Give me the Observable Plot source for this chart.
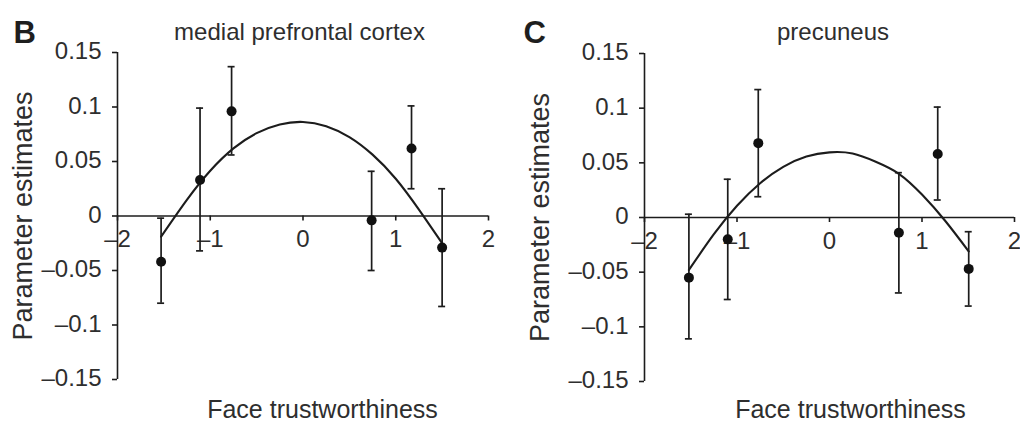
<!DOCTYPE html>
<html>
<head>
<meta charset="utf-8">
<script src="https://cdn.jsdelivr.net/npm/d3@7"></script>
<script src="https://cdn.jsdelivr.net/npm/@observablehq/plot@0.6"></script>
<style>
  body { margin: 0; background: #fff; }
  #fig { display: flex; width: 1020px; height: 424px; overflow: hidden; }
  #fig svg { display: block; flex: none; }
</style>
</head>
<body>
<div id="fig"></div>
<script>
// Axis ticks shared by both panels
const xTicks = [-2, -1, 0, 1, 2];
const xTickLabels = ["\u20132", "\u20131", "0", "1", "2"];
const yTicks = [-0.15, -0.1, -0.05, 0, 0.05, 0.1, 0.15];
const yTickLabels = ["\u20130.15", "\u20130.1", "\u20130.05", "0", "0.05", "0.1", "0.15"];

// Panel B: medial prefrontal cortex — bin means with error bars
const mpfcX = [-1.53, -1.11, -0.77, 0.74, 1.17, 1.50];
const mpfcY = [-0.042, 0.033, 0.096, -0.004, 0.062, -0.029];
const mpfcHi = [-0.002, 0.099, 0.137, 0.041, 0.101, 0.025];
const mpfcLo = [-0.080, -0.032, 0.056, -0.050, 0.025, -0.083];
// quadratic fit, sampled along the trustworthiness axis
const mpfcFitX = [-1.53, -1.25, -1.0, -0.75, -0.5, -0.25, 0, 0.25, 0.5, 0.75, 1.0, 1.25, 1.5];
const mpfcFitY = [-0.019, 0.015, 0.0415, 0.062, 0.076, 0.084, 0.0863, 0.0824, 0.0724, 0.0563, 0.0342, 0.0059, -0.025];

// Panel C: precuneus
const precX = [-1.52, -1.10, -0.77, 0.75, 1.17, 1.505];
const precY = [-0.055, -0.020, 0.068, -0.014, 0.058, -0.047];
const precHi = [0.003, 0.035, 0.117, 0.041, 0.101, -0.013];
const precLo = [-0.111, -0.075, 0.019, -0.069, 0.016, -0.081];
const precFitX = [-1.52, -1.25, -1.0, -0.75, -0.5, -0.25, 0, 0.25, 0.5, 0.75, 1.0, 1.25, 1.505];
const precFitY = [-0.048, -0.0153, 0.0107, 0.0313, 0.0463, 0.0557, 0.0596, 0.0585, 0.051, 0.040, 0.021, -0.003, -0.031];

const FONT = "'Liberation Sans', Arial, Helvetica, sans-serif";
const INK = "#1c1c1c";
const TEXT = "#2e2e2e";

function panel(p) {
  const pts = p.x.map((x, i) => ({x, y: p.y[i], hi: p.hi[i], lo: p.lo[i]}));
  const fit = p.fitX.map((x, i) => ({x, y: p.fitY[i]}));
  const [ml, mr, mt, mb] = p.margins;
  const frameMid = ml + (510 - ml - mr) / 2;
  return Plot.plot({
    width: 510,
    height: 424,
    marginLeft: ml, marginRight: mr, marginTop: mt, marginBottom: mb,
    x: {domain: [-2, 2], axis: null},
    y: {domain: [-0.15, 0.15], axis: null},
    style: {fontFamily: FONT, background: "#fff", color: TEXT},
    marks: [
      // x axis through zero, with downward ticks
      Plot.ruleY([0], {x1: -2, x2: 2, stroke: INK, strokeWidth: 1.6}),
      Plot.ruleX(xTicks, {x: d => d, y1: 0, y2: 0, insetBottom: -5, stroke: INK, strokeWidth: 1.6}),
      Plot.text(xTicks, {x: d => d, y: 0, text: (d, i) => xTickLabels[i], lineAnchor: "top", dy: 14, fontSize: 24, fill: TEXT}),
      // y axis at the left edge, with outward ticks
      Plot.ruleX([-2], {y1: -0.15, y2: 0.15, stroke: INK, strokeWidth: 1.6}),
      Plot.ruleY(yTicks, {y: d => d, x1: -2, x2: -2, insetLeft: -5, stroke: INK, strokeWidth: 1.6}),
      Plot.text(yTicks, {x: -2, y: d => d, text: (d, i) => yTickLabels[i], textAnchor: "end", dx: -16, dy: -1, fontSize: 24, fill: TEXT}),
      // fitted curve
      Plot.line(fit, {x: "x", y: "y", curve: "natural", stroke: INK, strokeWidth: 2.1}),
      // error bars with caps
      Plot.ruleX(pts, {x: "x", y1: "lo", y2: "hi", stroke: INK, strokeWidth: 1.7}),
      Plot.ruleY(pts, {y: "hi", x1: "x", x2: "x", insetLeft: -3.5, insetRight: -3.5, stroke: INK, strokeWidth: 1.7}),
      Plot.ruleY(pts, {y: "lo", x1: "x", x2: "x", insetLeft: -3.5, insetRight: -3.5, stroke: INK, strokeWidth: 1.7}),
      Plot.dot(pts, {x: "x", y: "y", r: 5, fill: "#111", stroke: "none"}),
      // panel letter and region title
      Plot.text([p.letter], {frameAnchor: "top-left", text: d => d, textAnchor: "start", lineAnchor: "bottom", dx: p.letterX - ml, dy: 42 - mt, fontSize: 31, fontWeight: "bold", fill: "#1e1e1e"}),
      Plot.text([p.title], {frameAnchor: "top", text: d => d, textAnchor: "middle", lineAnchor: "bottom", dx: p.titleX - frameMid, dy: 39.5 - mt, fontSize: 24, fill: TEXT}),
      // axis titles
      Plot.text(["Parameter estimates"], {frameAnchor: "left", text: d => d, rotate: -90, textAnchor: "middle", lineAnchor: "middle", dx: p.yLabelX - ml, fontSize: 27, fill: TEXT}),
      Plot.text(["Face trustworthiness"], {frameAnchor: "bottom", text: d => d, textAnchor: "middle", lineAnchor: "bottom", dx: p.xLabelX - frameMid, dy: 417 - (424 - mb), fontSize: 25, fill: TEXT})
    ]
  });
}

const fig = document.getElementById("fig");
fig.append(panel({
  letter: "B", title: "medial prefrontal cortex",
  x: mpfcX, y: mpfcY, hi: mpfcHi, lo: mpfcLo, fitX: mpfcFitX, fitY: mpfcFitY,
  margins: [117, 22, 52, 45],
  letterX: 13, titleX: 299, yLabelX: 23, xLabelX: 322
}));
fig.append(panel({
  letter: "C", title: "precuneus",
  x: precX, y: precY, hi: precHi, lo: precLo, fitX: precFitX, fitY: precFitY,
  margins: [134, 6, 53, 43],
  letterX: 13, titleX: 322.5, yLabelX: 30, xLabelX: 340
}));
</script>
</body>
</html>
